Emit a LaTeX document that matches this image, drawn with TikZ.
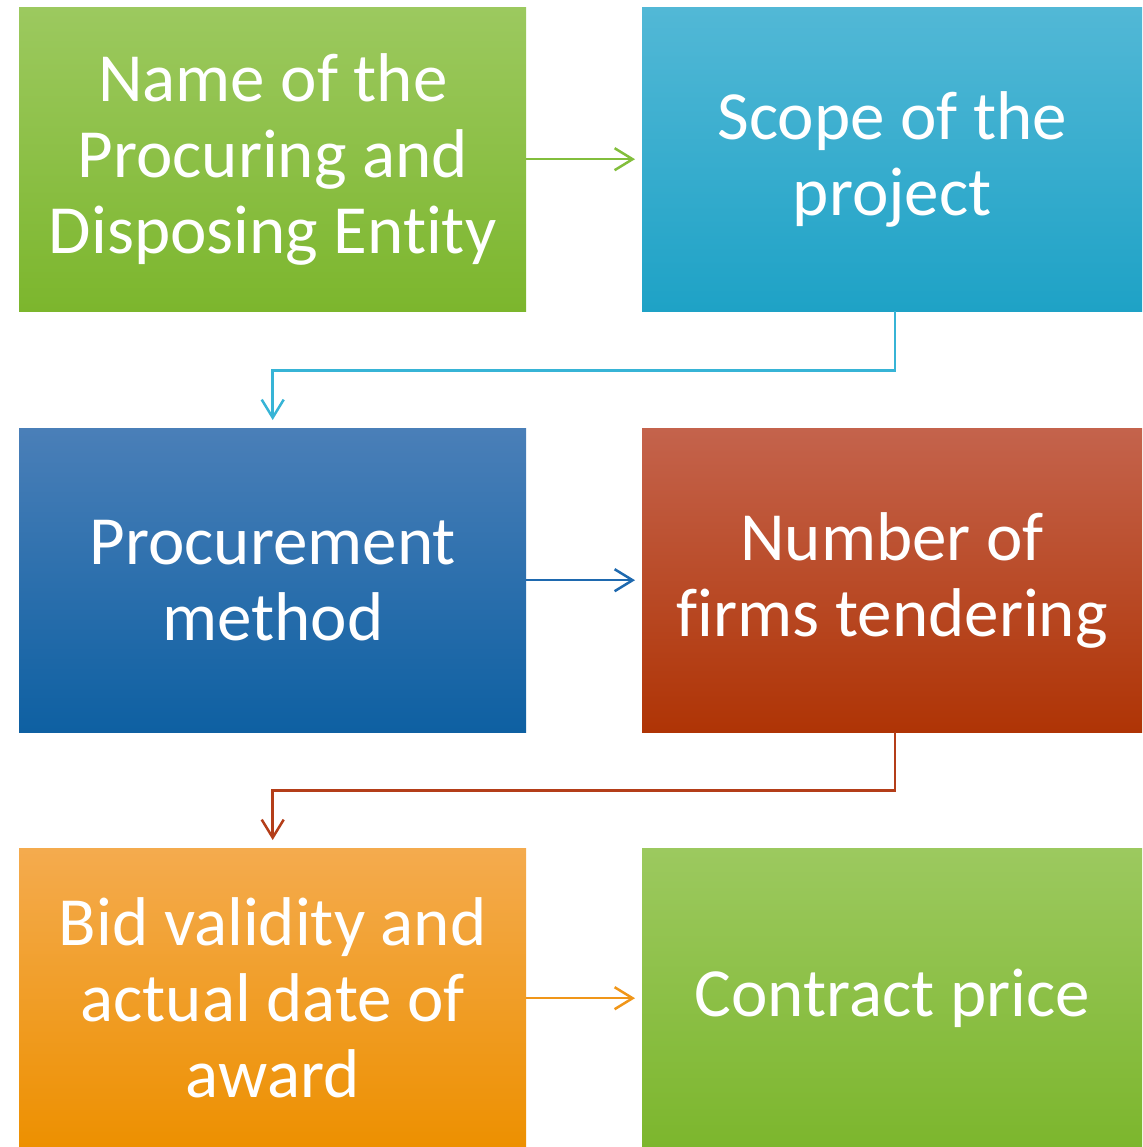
\documentclass[tikz,border=0pt]{standalone}
\usepackage{fontspec}
\setmainfont[Ligatures=NoCommon]{Carlito}
\usetikzlibrary{arrows.meta}
\definecolor{gT}{RGB}{156,201,95}
\definecolor{gB}{RGB}{124,182,45}
\definecolor{cT}{RGB}{82,184,214}
\definecolor{cB}{RGB}{30,162,198}
\definecolor{bT}{RGB}{74,127,184}
\definecolor{bB}{RGB}{14,96,162}
\definecolor{rT}{RGB}{196,99,76}
\definecolor{rB}{RGB}{175,52,5}
\definecolor{oT}{RGB}{244,171,78}
\definecolor{oB}{RGB}{237,144,0}
\definecolor{gA}{RGB}{130,190,60}
\definecolor{cA}{RGB}{55,180,214}
\definecolor{bA}{RGB}{30,105,175}
\definecolor{rA}{RGB}{180,62,25}
\definecolor{oA}{RGB}{240,150,25}
\tikzset{
  box/.style={draw=none, anchor=north west, inner sep=0pt, align=center,
    text=white, font=\fontsize{69}{76}\selectfont},
  conn/.style={line width=2.5pt, -{Straight Barb[length=18pt,width=22pt]}}
}
\begin{document}
\begin{tikzpicture}[x=1pt,y=-1pt]
\useasboundingbox (0,0) rectangle (1142,1147);
\node[box, top color=gT, bottom color=gB, minimum width=507pt, minimum height=304pt] (b1) at (19,7) {Name of the\\Procuring and\\Disposing Entity};
\node[box, top color=cT, bottom color=cB, minimum width=500pt, minimum height=304pt] (b2) at (642,7) {Scope of the\\project};
\node[box, top color=bT, bottom color=bB, minimum width=507pt, minimum height=304pt] (b3) at (19,428) {Procurement\\method};
\node[box, top color=rT, bottom color=rB, minimum width=500pt, minimum height=304pt] (b4) at (642,428) {Number of\\firms tendering};
\node[box, top color=oT, bottom color=oB, minimum width=507pt, minimum height=300pt] (b5) at (19,848) {Bid validity and\\actual date of\\award};
\node[box, top color=gT, bottom color=gB, minimum width=500pt, minimum height=300pt] (b6) at (642,848) {Contract price};
\draw[conn, draw=gA, shorten >=7pt] (b1.east) -- (b2.west);
\draw[conn, draw=bA, shorten >=7pt] (b3.east) -- (b4.west);
\draw[conn, draw=oA, shorten >=7pt] (b5.east) -- (b6.west);
\draw[conn, draw=cA, shorten >=8pt] ([xshift=3pt]b2.south) -- ++(0,59) -| (b3.north);
\draw[conn, draw=rA, shorten >=8pt] ([xshift=3pt]b4.south) -- ++(0,58) -| (b5.north);
\end{tikzpicture}
\end{document}
